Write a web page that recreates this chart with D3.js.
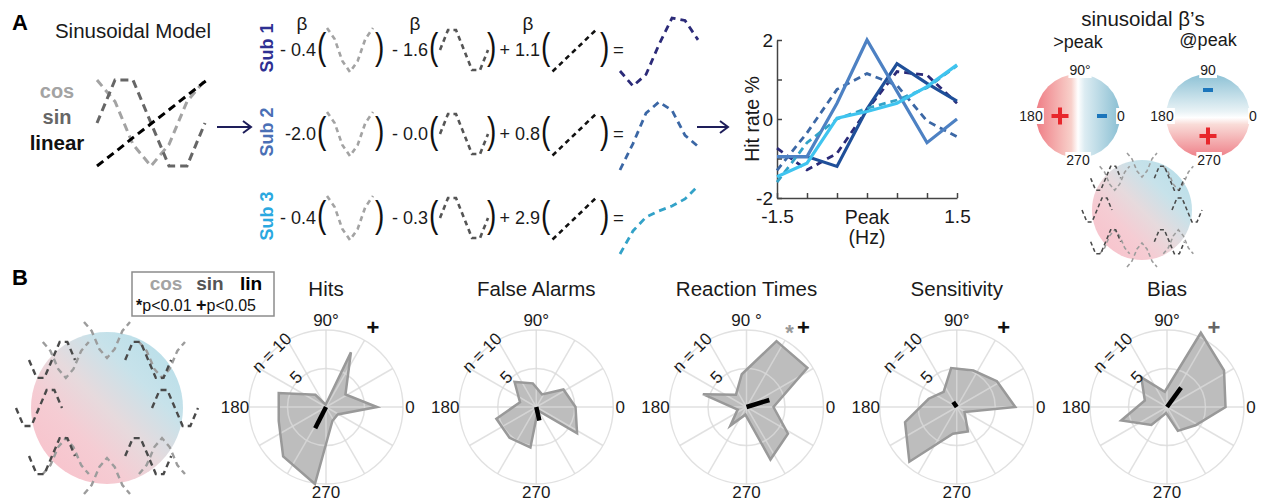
<!DOCTYPE html>
<html>
<head>
<meta charset="utf-8">
<script src="https://cdn.jsdelivr.net/npm/d3@7"></script>
<style>
body { margin: 0; background: #fff; }
svg text { font-family: "Liberation Sans", Arial, sans-serif; }
</style>
</head>
<body>
<div id="content"></div>
<script>
// ---- data ----
var peakHz = [-1.5, -1, -0.5, 0, 0.5, 1, 1.5];
var cosShape = [1, 0.5, -0.5, -1, -0.5, 0.5, 1];
var sinShape = [0, 1, 1, 0, -1, -1, 0];
var linShape = [-1, -0.67, -0.33, 0, 0.33, 0.67, 1];

var subjects = ["Sub 1", "Sub 2", "Sub 3"];
var betaCos = ["- 0.4", "-2.0", "- 0.4"];
var betaSin = ["- 1.6", "- 0.0", "- 0.3"];
var betaLin = ["+ 1.1", "+ 0.8", "+ 2.9"];

// hit rate % per peak bin (solid = data, dashed = sinusoidal fit)
var sub1Hit = [-0.95, -0.95, -1.2, 0.25, 1.4, 0.9, 0.45];
var sub2Hit = [-0.95, -0.95, 0.4, 2.0, 0.7, -0.6, 0.0];
var sub3Hit = [-1.46, -1.12, 0.02, 0.19, 0.4, 0.82, 1.37];
var sub1Fit = [-0.74, -1.29, -0.87, 0.23, 1.2, 1.11, 0.4];
var sub2Fit = [-1.3, -0.35, 0.75, 1.15, 0.85, -0.05, -0.45];
var sub3Fit = [-1.6, -0.6, 0.0, 0.27, 0.48, 0.79, 1.35];
var hitTicks = [-2, -1, 0, 1, 2];
var hitTickLabels = ["-2", "", "0", "", "2"];
var peakTickLabels = ["-1.5", "", "", "", "", "", "1.5"];

// polar histograms (11 phase bins)
var polarTitles = ["Hits", "False Alarms", "Reaction Times", "Sensitivity", "Bias"];
var binAngles = [0, 32.7, 65.5, 98.2, 130.9, 163.6, 196.4, 229.1, 261.8, 294.5, 327.3];
var hitsN = [6.6, 3.0, 7.8, 0.3, 2.1, 6.4, 6.4, 8.5, 10.1, 2.0, 1.8];
var falseAlarmsN = [5.1, 4.2, 1.8, 3.1, 4.3, 2.2, 5.4, 5.3, 5.3, 0.5, 6.3];
var reactionN = [3.5, 9.4, 9.4, 4.3, 2.1, 5.9, 1.2, 3.2, 1.0, 7.5, 6.4];
var sensitivityN = [7.6, 6.2, 5.2, 5.1, 2.6, 3.8, 7.0, 9.4, 3.5, 3.5, 1.2];
var biasN = [7.6, 8.8, 10.6, 2.0, 5.1, 3.0, 6.2, 3.1, 0.8, 3.4, 4.4];
var meanAngle = [243, 283, 17, 125, 54];
var meanLen = [3.1, 1.8, 3.1, 0.8, 3.1];
var sigMarks = [["+"], [], ["*", "+"], ["+"], ["+"]];
var sigShade = [["#111"], [], ["#9a9a9a", "#111"], ["#111"], ["#666"]];
var ringTicks = [5, 10];
var spokeAngles = [0, 30, 60, 90, 120, 150, 180, 210, 240, 270, 300, 330];
var topLabels = ["90°", "90°", "90 °", "90°", "90°"];
var glyphAngles = [0, 45, 90, 135, 180, 225, 270, 315];

var allCounts = [hitsN, falseAlarmsN, reactionN, sensitivityN, biasN];

// ---- drawing ----
var svg = d3.select("#content").append("svg")
	.attr("width", 1262).attr("height", 503);
svg.append("rect").attr("width", 1262).attr("height", 503).attr("fill", "#fff");

var defs = svg.append("defs");
var addGrad = function (id, x1, y1, x2, y2, stops) {
	var g = defs.append("linearGradient").attr("id", id)
		.attr("x1", x1).attr("y1", y1).attr("x2", x2).attr("y2", y2);
	stops.forEach(function (s) {
		g.append("stop").attr("offset", s[0]).attr("stop-color", s[1]);
	});
};
addGrad("gradH", 0, 0, 1, 0, [[0, "#ef7d85"], [0.42, "#f8d0ca"], [0.5, "#ffffff"], [0.58, "#dcecf2"], [1, "#8abfd3"]]);
addGrad("gradV", 0, 0, 0, 1, [[0, "#8cc1d5"], [0.45, "#eaf3f6"], [0.52, "#ffffff"], [0.6, "#f9dcd8"], [1, "#ee7d86"]]);
addGrad("gradD", 1, 0, 0, 1, [[0, "#b2dde9"], [0.3, "#c7e2ea"], [0.5, "#e6dadd"], [0.68, "#f5ccd3"], [1, "#f9bfc9"]]);

var label = function (g, x, y, s, size, opts) {
	opts = opts || {};
	return g.append("text").attr("x", x).attr("y", y).text(s)
		.attr("font-size", size)
		.attr("font-weight", opts.bold ? "bold" : null)
		.attr("fill", opts.color || "#1a1a1a")
		.attr("text-anchor", opts.anchor || "middle");
};

var glyph = function (g, shape, cx, cy, w, h, sign, color, dash, width) {
	var x = d3.scaleLinear().domain([0, shape.length - 1]).range([cx - w / 2, cx + w / 2]);
	var y = d3.scaleLinear().domain([-1, 1]).range([cy + sign * h / 2, cy - sign * h / 2]);
	g.append("path").datum(shape)
		.attr("d", d3.line().x(function (d, i) { return x(i); }).y(function (d) { return y(d); }))
		.attr("fill", "none").attr("stroke", color).attr("stroke-width", width)
		.attr("stroke-dasharray", dash);
};

var arrow = function (x1, x2, y) {
	svg.append("line").attr("x1", x1).attr("x2", x2 - 1).attr("y1", y).attr("y2", y)
		.attr("stroke", "#1e1e5a").attr("stroke-width", 2);
	svg.append("path").attr("d", "M" + (x2 - 8) + "," + (y - 6) + "L" + x2 + "," + y + "L" + (x2 - 8) + "," + (y + 6))
		.attr("fill", "none").attr("stroke", "#1e1e5a").attr("stroke-width", 2);
};

var paren = function (x, cy, s) {
	svg.append("text").text(s)
		.attr("transform", "translate(" + x + "," + cy + ") scale(1,1.33)")
		.attr("y", 7.3).attr("font-size", 28).attr("fill", "#111");
};

var COS_C = "#a3a3a3", SIN_C = "#555", LIN_C = "#111";

// circle with cos/sin glyphs around
var glyphCircle = function (cx, cy, r, ring, w, h, dw) {
	var g = svg.append("g");
	g.append("circle").attr("cx", cx).attr("cy", cy).attr("r", r).attr("fill", "url(#gradD)");
	glyphAngles.forEach(function (a) {
		var t = a * Math.PI / 180;
		var gx = cx + ring * Math.cos(t), gy = cy - ring * Math.sin(t);
		var s = Math.round(Math.sin(t) * 100) / 100, c = Math.round(Math.cos(t) * 100) / 100;
		var diag = (s != 0 && c != 0);
		if (s != 0)
			glyph(g, cosShape, gx + (diag ? w * 0.15 : 0), gy, w, h, s > 0 ? 1 : -1, "#9c9c9c", dw + "," + (dw * 0.7), 2.4 * w / 46);
		if (c != 0)
			glyph(g, sinShape, gx - (diag ? w * 0.15 : 0), gy, w, h, c > 0 ? 1 : -1, "#4a4a4a", dw + "," + (dw * 0.7), 2.4 * w / 46);
	});
};

// ===== Panel A =====
label(svg, 12, 30, "A", 22, { bold: true, anchor: "start", color: "#000" });
label(svg, 133, 38, "Sinusoidal Model", 20.5);
label(svg, 57, 98, "cos", 20, { bold: true, color: COS_C });
label(svg, 57, 124, "sin", 20, { bold: true, color: "#666" });
label(svg, 57, 150, "linear", 20.5, { bold: true, color: LIN_C });
glyph(svg, cosShape, 151, 123, 108, 86, 1, COS_C, "8,5", 3);
glyph(svg, sinShape, 151, 123, 108, 86, 1, "#666", "8,5", 3);
glyph(svg, linShape, 152, 123, 110, 86, 1, "#000", "8,5", 3);
arrow(217, 251, 127);

var subColors = ["#2e3092", "#4a6fb5", "#2aa8e0"];
var fitColors = ["#2b2a78", "#3b67a5", "#33a2c8"];
var hitColors = ["#1f4f99", "#4d81c3", "#3fc4ef"];
var fits = [sub1Fit, sub2Fit, sub3Fit];
var hits = [sub1Hit, sub2Hit, sub3Hit];

label(svg, 302, 30, "β", 19);
label(svg, 415, 30, "β", 19);
label(svg, 528, 30, "β", 19);

subjects.forEach(function (s, i) {
	var cy = 50 + 84 * i;
	svg.append("text").text(s)
		.attr("transform", "translate(267," + (cy - 2) + ") rotate(-90)")
		.attr("text-anchor", "middle").attr("dy", "0.35em")
		.attr("font-size", 18).attr("font-weight", "bold").attr("fill", subColors[i]);

	label(svg, 316, cy + 6, betaCos[i], 18, { anchor: "end" });
	label(svg, 428, cy + 6, betaSin[i], 18, { anchor: "end" });
	label(svg, 540, cy + 6, betaLin[i], 18, { anchor: "end" });
	paren(317, cy - 1, "(");
	paren(375, cy - 1, ")");
	paren(429, cy - 1, "(");
	paren(487, cy - 1, ")");
	paren(541, cy - 1, "(");
	paren(600, cy - 1, ")");
	glyph(svg, cosShape, 350, cy, 46, 44, 1, COS_C, "5,4", 2.6);
	glyph(svg, sinShape, 464, cy, 48, 40, 1, SIN_C, "5,4", 2.6);
	glyph(svg, linShape, 575, cy, 45, 43, 1, LIN_C, "5,4", 2.6);
	label(svg, 613, cy + 6, "=", 18.5, { anchor: "start" });

	var rx = d3.scaleLinear().domain([-1.5, 1.5]).range([620, 698]);
	var ry = d3.scaleLinear().domain(d3.extent(fits[i])).range([cy + 36, cy - 32]);
	svg.append("path").datum(fits[i])
		.attr("d", d3.line().x(function (d, j) { return rx(peakHz[j]); }).y(function (d) { return ry(d); }))
		.attr("fill", "none").attr("stroke", fitColors[i]).attr("stroke-width", 2.8)
		.attr("stroke-dasharray", "7,5");
});

arrow(697, 728, 127);

// ---- hit rate plot ----
var hx = d3.scaleLinear().domain([-1.5, 1.5]).range([777, 957]);
var hy = d3.scaleLinear().domain([-2, 2]).range([198, 40]);

var styleAxis = function (g) {
	g.selectAll("path").attr("stroke", "#444").attr("stroke-width", 1.5);
	g.selectAll("line").attr("stroke", "#444").attr("stroke-width", 1.5);
	g.selectAll("text").attr("font-size", 19).attr("fill", "#1a1a1a")
		.attr("font-family", "'Liberation Sans', Arial, sans-serif");
};

svg.append("g").attr("transform", "translate(0,198)")
	.call(d3.axisBottom(hx).tickValues(peakHz).tickSize(-5).tickSizeOuter(0).tickPadding(12)
		.tickFormat(function (d, i) { return peakTickLabels[i]; }))
	.call(styleAxis);
svg.append("g").attr("transform", "translate(777,0)")
	.call(d3.axisLeft(hy).tickValues(hitTicks).tickSize(-5).tickSizeOuter(0).tickPadding(4)
		.tickFormat(function (d, i) { return hitTickLabels[i]; }))
	.call(styleAxis);

label(svg, 867, 224, "Peak", 19.5);
label(svg, 867, 244, "(Hz)", 19.5);
svg.append("text").text("Hit rate %")
	.attr("transform", "translate(752,119) rotate(-90)")
	.attr("text-anchor", "middle").attr("dy", "0.35em")
	.attr("font-size", 19.5).attr("fill", "#1a1a1a");

var hline = d3.line().x(function (d, j) { return hx(peakHz[j]); }).y(function (d) { return hy(d); });
subjects.forEach(function (s, i) {
	svg.append("path").datum(fits[i]).attr("d", hline)
		.attr("fill", "none").attr("stroke", fitColors[i]).attr("stroke-width", 2.8)
		.attr("stroke-dasharray", "7,5");
	svg.append("path").datum(hits[i]).attr("d", hline)
		.attr("fill", "none").attr("stroke", hitColors[i]).attr("stroke-width", 3.2);
});

// ---- sinusoidal beta circles ----
label(svg, 1143, 26, "sinusoidal β’s", 20.5);
label(svg, 1078, 48, ">peak", 18);
label(svg, 1208, 46, "@peak", 18);

var betaCircle = function (cx, cy, grad, labels) {
	var g = svg.append("g");
	g.append("circle").attr("cx", cx).attr("cy", cy).attr("r", 42).attr("fill", "url(#" + grad + ")");
	labels.forEach(function (l) {
		var t = label(g, cx + l[1], cy + l[2], l[0], 14);
		var b = t.node().getBBox();
		g.insert("rect", "text").attr("x", b.x - 1).attr("y", b.y).attr("width", b.width + 2)
			.attr("height", b.height).attr("fill", "#fff");
	});
	return g;
};
betaCircle(1078, 116, "gradH", [["90°", 2, -41], ["180", -47, 5], ["0", 43, 5], ["270", 0, 49]]);
betaCircle(1208, 116, "gradV", [["90", 0, -41], ["180", -46, 5], ["0", 45, 5], ["270", 1, 49]]);

var plus = function (x, y) {
	svg.append("rect").attr("x", x - 8.5).attr("y", y - 2).attr("width", 17).attr("height", 4).attr("fill", "#e8262b");
	svg.append("rect").attr("x", x - 2).attr("y", y - 8.5).attr("width", 4).attr("height", 17).attr("fill", "#e8262b");
};
var minus = function (x, y) {
	svg.append("rect").attr("x", x - 5).attr("y", y - 2).attr("width", 10).attr("height", 4).attr("fill", "#1b75bb");
};
plus(1060, 116); minus(1102, 116);
minus(1208, 90); plus(1208, 136);

glyphCircle(1142, 210, 50, 45, 30, 24, 4);

// ===== Panel B =====
label(svg, 12, 285, "B", 22, { bold: true, anchor: "start", color: "#000" });
glyphCircle(107, 408, 76, 68, 46, 36, 6);

svg.append("rect").attr("x", 132).attr("y", 272).attr("width", 142).attr("height", 44)
	.attr("fill", "#fff").attr("stroke", "#8c8c8c").attr("stroke-width", 1.5);
label(svg, 166, 290, "cos", 19, { bold: true, color: COS_C });
label(svg, 210, 290, "sin", 19, { bold: true, color: SIN_C });
label(svg, 251, 290, "lin", 19, { bold: true, color: "#000" });
var pl = svg.append("text").attr("x", 136).attr("y", 311).attr("font-size", 16).attr("fill", "#111");
pl.append("tspan").text("*").attr("font-weight", "bold");
pl.append("tspan").text("p<0.01  ");
pl.append("tspan").text("+").attr("font-weight", "bold").attr("font-size", 18);
pl.append("tspan").text("p<0.05");

var rScale = d3.scaleLinear().domain([0, 10]).range([0, 77]);
var toRad = function (deg) { return (90 - deg) * Math.PI / 180; };
var rose = d3.lineRadial()
	.angle(function (d) { return toRad(d[0]); })
	.radius(function (d) { return rScale(d[1]); })
	.curve(d3.curveLinearClosed);

polarTitles.forEach(function (title, i) {
	var cx = 326 + 210.25 * i, cy = 407;
	var g = svg.append("g").attr("transform", "translate(" + cx + "," + cy + ")");
	var pts = d3.zip(binAngles, allCounts[i]);

	g.append("path").datum(pts).attr("d", rose).attr("fill", "#bdbdbd");

	var grid = g.append("g").attr("stroke", "#d9d9d9").attr("stroke-opacity", 0.8)
		.attr("stroke-width", 1.5).attr("fill", "none");
	grid.selectAll("line").data(spokeAngles).enter().append("line")
		.attr("x1", 0).attr("y1", 0)
		.attr("x2", function (d) { return rScale(10) * Math.cos(d * Math.PI / 180); })
		.attr("y2", function (d) { return -rScale(10) * Math.sin(d * Math.PI / 180); });
	grid.selectAll("circle").data(ringTicks).enter().append("circle")
		.attr("r", function (d) { return rScale(d); });

	g.append("path").datum(pts).attr("d", rose).attr("fill", "none")
		.attr("stroke", "#999").attr("stroke-width", 2.5);

	g.append("path").datum([[meanAngle[i], 0], [meanAngle[i], meanLen[i]]])
		.attr("d", d3.lineRadial().angle(function (d) { return toRad(d[0]); })
			.radius(function (d) { return rScale(d[1]); }))
		.attr("stroke", "#000").attr("stroke-width", 4.5).attr("fill", "none");

	label(g, 0, -111, title, 20.5);
	label(g, 0, -81, topLabels[i], 17);
	label(g, 0, 91, "270", 17);
	label(g, -91, 6, "180", 17);
	label(g, 84, 6, "0", 17);

	ringTicks.forEach(function (t) {
		var rr = t == 10 ? rScale(10) : rScale(5) + 4;
		var px = rr * Math.cos(135 * Math.PI / 180), py = -rr * Math.sin(135 * Math.PI / 180);
		g.append("text").text(t == 10 ? "n = 10" : "5")
			.attr("transform", "translate(" + px + "," + py + ") rotate(-45)")
			.attr("text-anchor", "middle").attr("dy", "0.35em")
			.attr("font-size", 17).attr("fill", "#1a1a1a");
	});

	var marks = sigMarks[i];
	marks.forEach(function (m, k) {
		var mx = marks.length == 2 ? (k == 0 ? 43 : 57) : 47;
		label(g, mx, m == "*" ? -67 : -72, m, 22, { bold: true, color: sigShade[i][k] });
	});
});
</script>
</body>
</html>
